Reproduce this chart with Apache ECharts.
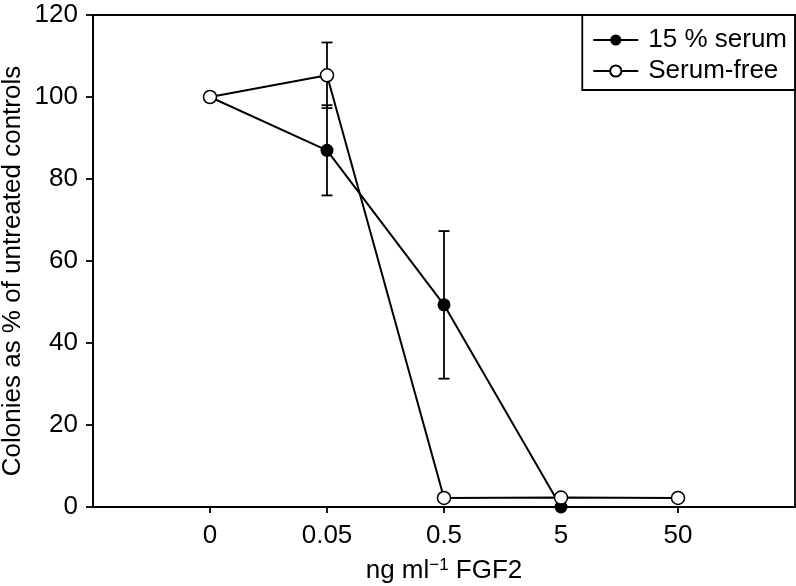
<!DOCTYPE html>
<html>
<head>
<meta charset="utf-8">
<script src="https://cdn.jsdelivr.net/npm/echarts@6/dist/echarts.min.js"></script>
<style>html,body{margin:0;padding:0;background:#fff;}#c{width:796px;height:586px;}</style>
</head>
<body>
<div id="c"></div>
<script>
const categories = ['0', '0.05', '0.5', '5', '50'];
const serum15 = [100, 87, 49.3, 0];
const serum15Err = [0, 11, 18, 0];
const serumFree = [100, 105.3, 2.2, 2.3, 2.2];
const serumFreeErr = [0, 8, 0, 0, 0];
const yTicks = [0, 20, 40, 60, 80, 100, 120];

const FONT = 'Liberation Sans, Arial, Helvetica, sans-serif';
const FS = 26;

function pts(arr) { return arr.map((v, i) => [i, v]); }
function errs(vals, e) {
  const out = [];
  vals.forEach((v, i) => { if (e[i] > 0) out.push([i, v - e[i], v + e[i]]); });
  return out;
}
function errRender(params, api) {
  const x = api.value(0);
  const lo = api.coord([x, api.value(1)]);
  const hi = api.coord([x, api.value(2)]);
  const w = 5.5;
  const st = { stroke: '#000', lineWidth: 1.8 };
  return {
    type: 'group',
    children: [
      { type: 'line', shape: { x1: lo[0], y1: lo[1], x2: hi[0], y2: hi[1] }, style: st },
      { type: 'line', shape: { x1: lo[0] - w, y1: lo[1], x2: lo[0] + w, y2: lo[1] }, style: st },
      { type: 'line', shape: { x1: hi[0] - w, y1: hi[1], x2: hi[0] + w, y2: hi[1] }, style: st }
    ]
  };
}

const chart = echarts.init(document.getElementById('c'), null, { renderer: 'canvas' });
chart.setOption({
  animation: false,
  backgroundColor: '#fff',
  textStyle: { fontFamily: FONT, color: '#000' },
  grid: { left: 93, right: 1, top: 15, bottom: 79, show: true, borderColor: '#000', borderWidth: 1.8, containLabel: false, outerBoundsMode: 'none' },
  legend: {
    orient: 'vertical',
    right: 1, top: 15,
    backgroundColor: '#fff',
    borderColor: '#000', borderWidth: 1.8, borderRadius: 0,
    padding: [12, 8, 6, 10],
    itemWidth: 45, itemHeight: 14, itemGap: 5,
    textStyle: { fontFamily: FONT, fontSize: FS, color: '#000', padding: [0, 0, 0, 5] },
    data: ['15 % serum', 'Serum-free']
  },
  xAxis: {
    type: 'value', min: -1, max: 5, interval: 1,
    splitLine: { show: false },
    axisLine: { show: true, onZero: false, lineStyle: { color: '#000', width: 1.8 } },
    axisTick: { show: true, length: 6, inside: false, customValues: [0, 1, 2, 3, 4], lineStyle: { color: '#000', width: 1.8 } },
    axisLabel: { customValues: [0, 1, 2, 3, 4], formatter: v => categories[v] !== undefined ? categories[v] : '', fontSize: FS, color: '#000', margin: 16, fontFamily: FONT },
    name: '{a|ng ml}{s|−1}{a| FGF2}',
    nameLocation: 'middle', nameGap: 50,
    nameTextStyle: { rich: { a: { fontSize: FS, fontFamily: FONT, color: '#000' }, s: { fontSize: 17, fontFamily: FONT, color: '#000', verticalAlign: 'top', padding: [0, 0, 10, 0] } } }
  },
  yAxis: {
    type: 'value', min: 0, max: 120, interval: 20,
    splitLine: { show: false },
    axisLine: { show: true, onZero: false, lineStyle: { color: '#000', width: 1.8 } },
    axisTick: { show: true, length: 7, inside: false, lineStyle: { color: '#000', width: 1.8 } },
    axisLabel: { fontSize: FS, color: '#000', margin: 15, fontFamily: FONT, customValues: yTicks },
    name: 'Colonies as % of untreated controls',
    nameLocation: 'middle', nameGap: 67, nameMoveOverlap: false,
    nameTextStyle: { fontSize: FS, fontFamily: FONT, color: '#000', padding: [0, 20, 0, 0] }
  },
  series: [
    { type: 'custom', name: 'err1', renderItem: errRender, data: errs(serum15, serum15Err), z: 1, clip: false, silent: true },
    { type: 'custom', name: 'err2', renderItem: errRender, data: errs(serumFree, serumFreeErr), z: 1, clip: false, silent: true },
    {
      type: 'line', name: '15 % serum', data: pts(serum15), z: 2, clip: false,
      symbol: 'circle', symbolSize: 13,
      lineStyle: { color: '#000', width: 2 },
      itemStyle: { color: '#000', borderColor: '#000', borderWidth: 0 }
    },
    {
      type: 'line', name: 'Serum-free', data: pts(serumFree), z: 3, clip: false,
      symbol: 'circle', symbolSize: 13,
      lineStyle: { color: '#000', width: 2 },
      itemStyle: { color: '#fff', borderColor: '#000', borderWidth: 1.5 }
    }
  ]
});
</script>
</body>
</html>
